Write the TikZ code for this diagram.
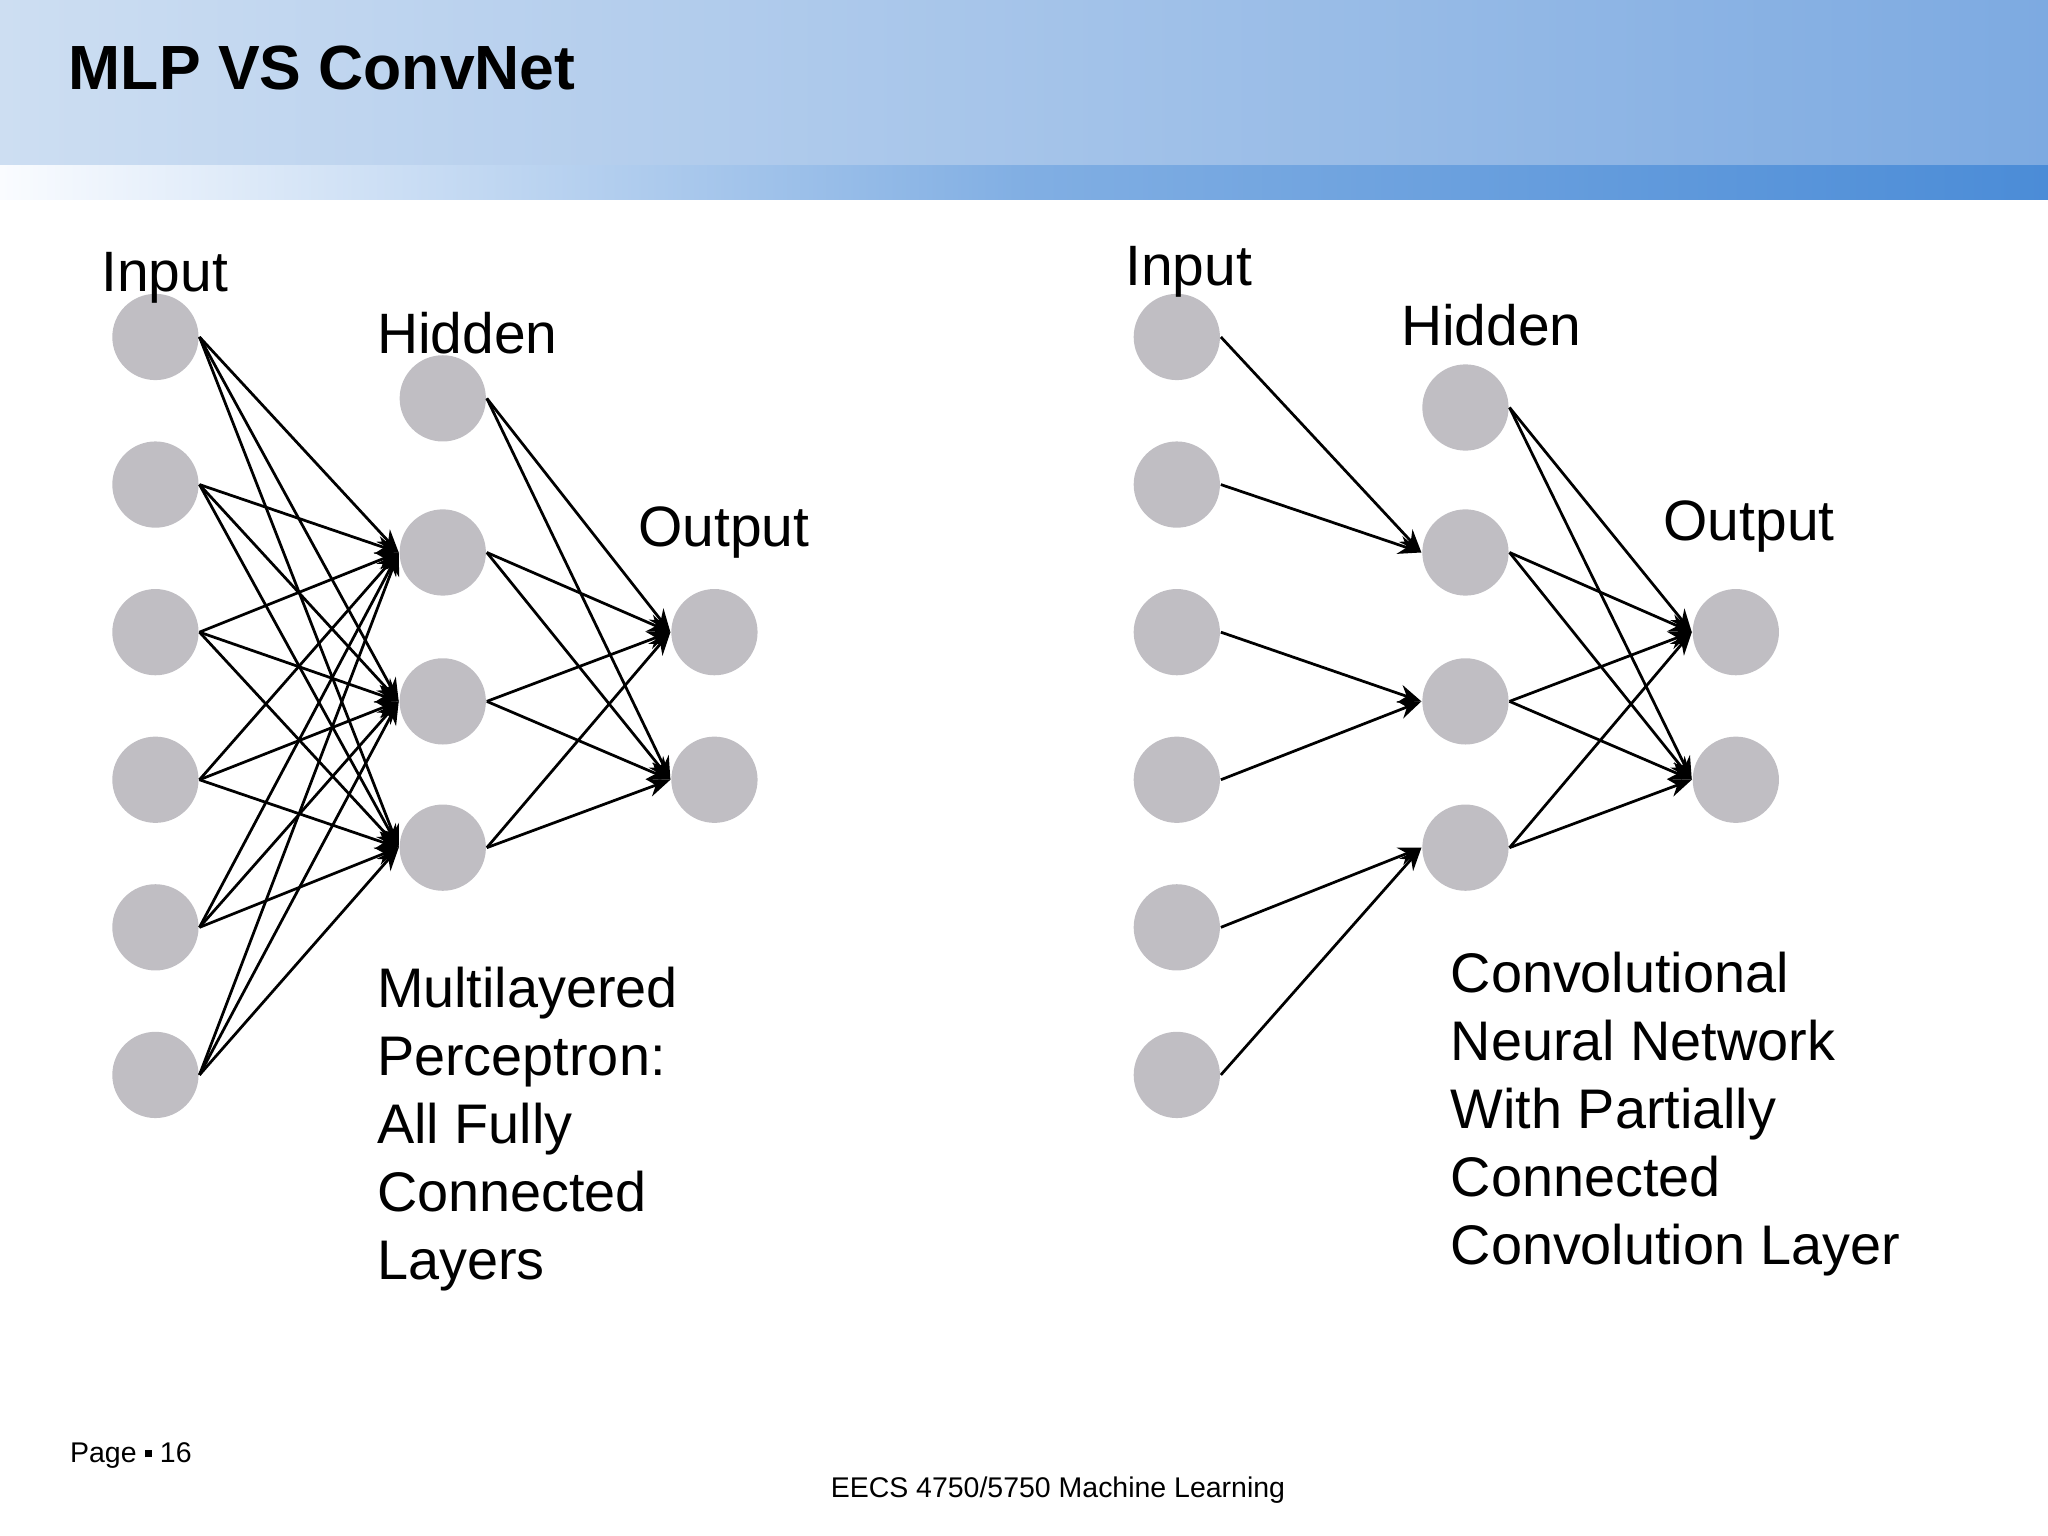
\documentclass[tikz,border=0pt]{standalone}
\usepackage{fontspec}
\setmainfont{Liberation Sans}
\usetikzlibrary{arrows.meta}
\definecolor{ng}{RGB}{192,190,195}
\definecolor{hl}{RGB}{205,222,242}
\definecolor{hr}{RGB}{125,170,225}
\definecolor{sl}{RGB}{250,252,255}
\definecolor{sr}{RGB}{75,140,215}
\begin{document}
\begin{tikzpicture}[x=0.01cm,y=-0.01cm,
  neu/.style={circle,fill=ng,minimum size=0.66cm,inner sep=0pt},
  lab/.style={anchor=west,inner sep=0pt,font=\fontsize{12.4pt}{14.8pt}\selectfont},
  txt/.style={anchor=north west,inner sep=0pt,align=left,font=\fontsize{12.15pt}{14.8pt}\selectfont},
  ed/.style={-{Stealth[length=5pt,width=4pt]},line width=0.6pt}]
\useasboundingbox (0,0) rectangle (1568,1176);
\shade[left color=hl,right color=hr] (0,0) rectangle (1568,127);
\shade[left color=sl,right color=sr,middle color=sr!70] (0,127) rectangle (1568,153);
\node[anchor=west,inner sep=0pt,font=\fontsize{13.6pt}{15pt}\selectfont\bfseries] (title) at (52,52) {MLP VS ConvNet};
\foreach \i/\y in {1/258,2/371,3/484,4/597,5/710,6/823}{
  \node[neu] (a\i) at (119,\y) {};
  \node[neu] (c\i) at (901,\y) {};}
\foreach \i/\y in {1/305,2/423,3/537,4/649}{\node[neu] (b\i) at (339,\y) {};}
\foreach \i/\y in {1/312,2/423,3/537,4/649}{\node[neu] (d\i) at (1122,\y) {};}
\foreach \i/\y in {1/484,2/597}{
  \node[neu] (o\i) at (547,\y) {};
  \node[neu] (p\i) at (1329,\y) {};}
\foreach \i in {1,...,6}{\foreach \j in {2,3,4}{\draw[ed] (a\i.east) -- (b\j.west);}}
\foreach \i in {1,...,4}{\foreach \j in {1,2}{
  \draw[ed] (b\i.east) -- (o\j.west);
  \draw[ed] (d\i.east) -- (p\j.west);}}
\foreach \i/\j in {1/2,2/2,3/3,4/3,5/4,6/4}{\draw[ed] (c\i.east) -- (d\j.west);}
\node[lab] (l1) at (77,213) {Input};
\node[lab] (l2) at (288,255) {Hidden};
\node[lab] (l3) at (488,408) {Output};
\node[lab] (r1) at (861,208) {Input};
\node[lab] (r2) at (1072,249) {Hidden};
\node[lab] (r3) at (1273,403) {Output};
\node[txt] (t1) at (288,740) {Multilayered\\Perceptron:\\All Fully\\Connected\\Layers};
\node[txt] (t2) at (1110,728) {Convolutional\\Neural Network\\With Partially\\Connected\\Convolution Layer};
\node[anchor=west,inner sep=0pt,font=\fontsize{6.2pt}{7pt}\selectfont] (pg) at (53,1114) {Page \raisebox{0.3ex}{\rule{0.5ex}{0.5ex}} 16};
\node[inner sep=0pt,font=\fontsize{6.2pt}{7pt}\selectfont] (ft) at (810,1141) {EECS 4750/5750 Machine Learning};
\end{tikzpicture}
\end{document}
